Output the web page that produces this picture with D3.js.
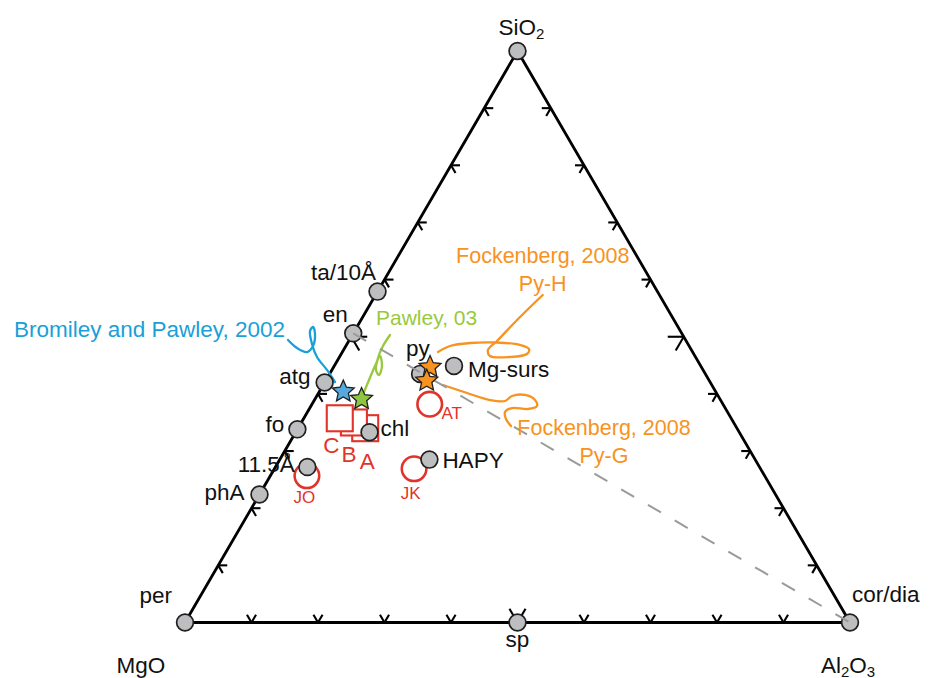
<!DOCTYPE html>
<html>
<head>
<meta charset="utf-8">
<script src="https://cdn.jsdelivr.net/npm/d3@7"></script>
<style>
  body { margin: 0; background: #fff; }
  svg { display: block; }
  text { font-family: "Liberation Sans", Arial, Helvetica, sans-serif; }
</style>
</head>
<body>
<svg id="chart" width="931" height="678"></svg>
<script>
// MgO – Al2O3 – SiO2 ternary (mole fractions: MgO, Al2O3, SiO2)

// Phase compositions
const phaseNames = ["per", "cor/dia", "SiO2", "sp", "ta/10Å", "en", "atg", "fo", "11.5Å", "phA", "chl", "py", "Mg-surs", "HAPY"];
const phaseMgO   = [1,     0,         0,      0.5,  0.421,    0.494, 0.580, 0.662, 0.680,  0.776, 0.556, 0.429, 0.371,    0.490];
const phaseAl2O3 = [0,     1,         0,      0.5,  0,        0,     0,     0,     0.048,  0,     0.111, 0.136, 0.180,    0.225];
const phaseSiO2  = [0,     0,         1,      0,    0.579,    0.506, 0.420, 0.338, 0.272,  0.224, 0.333, 0.435, 0.449,    0.285];

// Experimental run compositions (open circles)
const runCircleNames = ["JO", "JK", "AT"];
const runCircleMgO   = [0.689, 0.521, 0.441];
const runCircleAl2O3 = [0.055, 0.210, 0.177];
const runCircleSiO2  = [0.257, 0.269, 0.382];

// Experimental run compositions (open squares)
const runSquareNames = ["A", "B", "C"];
const runSquareMgO   = [0.559, 0.571, 0.588];
const runSquareAl2O3 = [0.101, 0.079, 0.054];
const runSquareSiO2  = [0.340, 0.350, 0.357];

// Literature compositions (stars)
const starSources = ["Bromiley and Pawley, 2002", "Pawley, 03", "Fockenberg, 2008 Py-H", "Fockenberg, 2008 Py-G"];
const starMgO   = [0.560, 0.539, 0.408, 0.425];
const starAl2O3 = [0.036, 0.070, 0.145, 0.152];
const starSiO2  = [0.404, 0.391, 0.447, 0.423];

// Axis ticks (fraction along each edge)
const tickValues = [0.1, 0.2, 0.3, 0.4, 0.5, 0.6, 0.7, 0.8, 0.9];

// Leader lines, in diagram units (u across, v up)
const bromileyLeader = [[0.1549,0.4943],[0.1684,0.4803],[0.1835,0.4733],[0.1925,0.4838],[0.1955,0.5048],[0.1925,0.5171],[0.1880,0.5101],[0.1910,0.4873],[0.1985,0.4646],[0.2135,0.4419],[0.2256,0.4208]];
const pawleyLeader   = [[0.3083,0.5031],[0.2977,0.4838],[0.2902,0.4628],[0.2872,0.4418],[0.2917,0.4331],[0.2962,0.4488],[0.2932,0.4663],[0.2857,0.4488],[0.2767,0.4243],[0.2692,0.4033]];
const pyHLeader      = [[0.5379,0.5731],[0.5023,0.5328],[0.4692,0.4926],[0.4556,0.4768],[0.4586,0.4663],[0.4887,0.4646],[0.5143,0.4698],[0.5173,0.4786],[0.5038,0.4856],[0.4692,0.4899],[0.4286,0.4891],[0.3985,0.4838],[0.3805,0.4733]];
const pyGLeader      = [[0.3880,0.4156],[0.4241,0.4016],[0.4586,0.3893],[0.4812,0.3876],[0.4917,0.3963],[0.5113,0.3981],[0.5263,0.3893],[0.5293,0.3788],[0.5158,0.3736],[0.4917,0.3753],[0.4812,0.3683],[0.4827,0.3561],[0.4902,0.3438]];

// ---------------------------------------------------------------------------

const svg = d3.select("#chart");
const X = d3.scaleLinear().domain([0, 1]).range([185, 850]);
const Y = d3.scaleLinear().domain([0, 1]).range([622.5, 51]);

function proj(mgo, al, si) {
  const s = mgo + al + si, b = al / s, c = si / s;
  return [X(b + c / 2), Y(c)];
}
const V = [proj(1, 0, 0), proj(0, 1, 0), proj(0, 0, 1)];

const RED = "#e2332a", BLUE = "#1a9fd8", GREEN = "#98c93c", ORANGE = "#f7931e";
const STAR_FILL = ["#55a9dd", "#8dc63f", "#f7931e", "#f7931e"];
const LEADER_COL = [BLUE, GREEN, ORANGE, ORANGE];
const FS = 22.5;

// triangle outline
svg.append("path")
  .attr("d", d3.line()([V[0], V[1], V[2]]) + "Z")
  .attr("fill", "none").attr("stroke", "#000").attr("stroke-width", 2.8)
  .attr("stroke-linejoin", "round");

// ticks: two strokes into the triangle, parallel to the other two edges
const edges = [[0, 1, 2], [0, 2, 1], [1, 2, 0]]; // [from, to, opposite vertex]
const unit = (p, q) => { const dx = q[0] - p[0], dy = q[1] - p[1], l = Math.hypot(dx, dy); return [dx / l, dy / l]; };
const tickG = svg.append("g").attr("stroke", "#000").attr("stroke-width", 2.1).attr("stroke-linecap", "butt");
edges.forEach(([i, j, k]) => {
  const d1 = unit(V[i], V[k]), d2 = unit(V[j], V[k]);
  tickValues.forEach(t => {
    const p = [V[i][0] + (V[j][0] - V[i][0]) * t, V[i][1] + (V[j][1] - V[i][1]) * t];
    const L = t === 0.5 ? 16 : 9;
    [d1, d2].forEach(d => {
      tickG.append("line")
        .attr("x1", p[0]).attr("y1", p[1])
        .attr("x2", p[0] + d[0] * L).attr("y2", p[1] + d[1] * L);
    });
  });
});

// leader lines
const leaderLine = d3.line().x(d => X(d[0])).y(d => Y(d[1])).curve(d3.curveCatmullRom.alpha(0.5));
[bromileyLeader, pawleyLeader, pyHLeader, pyGLeader].forEach((pts, i) => {
  svg.append("path").attr("d", leaderLine(pts))
    .attr("fill", "none").attr("stroke", LEADER_COL[i]).attr("stroke-width", 2.3)
    .attr("stroke-linecap", "round");
});

// open run squares
const SQ = 26;
runSquareNames.forEach((n, i) => {
  const p = proj(runSquareMgO[i], runSquareAl2O3[i], runSquareSiO2[i]);
  svg.append("rect").attr("x", p[0] - SQ / 2).attr("y", p[1] - SQ / 2)
    .attr("width", SQ).attr("height", SQ)
    .attr("fill", "#fff").attr("stroke", RED).attr("stroke-width", 2.1);
});
// open run circles
runCircleNames.forEach((n, i) => {
  const p = proj(runCircleMgO[i], runCircleAl2O3[i], runCircleSiO2[i]);
  svg.append("circle").attr("cx", p[0]).attr("cy", p[1]).attr("r", 12.3)
    .attr("fill", "none").attr("stroke", RED).attr("stroke-width", 2.6);
});

// phases
const phasePts = phaseNames.map((n, i) => proj(phaseMgO[i], phaseAl2O3[i], phaseSiO2[i]));
phasePts.forEach(p => {
  svg.append("circle").attr("cx", p[0]).attr("cy", p[1]).attr("r", 8.4)
    .attr("fill", "#bcbec0").attr("stroke", "#231f20").attr("stroke-width", 1.7);
});

// en – py – cor join
const enP = phasePts[phaseNames.indexOf("en")], corP = phasePts[phaseNames.indexOf("cor/dia")];
svg.append("line").attr("x1", enP[0]).attr("y1", enP[1]).attr("x2", corP[0]).attr("y2", corP[1])
  .attr("stroke", "#9a9a9a").attr("stroke-width", 2).attr("stroke-dasharray", "15,16");

// literature stars (five points)
function starPath(ro, ri) {
  const pts = d3.range(10).map(k => {
    const r = k % 2 ? ri : ro, a = -Math.PI / 2 + k * Math.PI / 5;
    return [r * Math.cos(a), r * Math.sin(a)];
  });
  return d3.line()(pts) + "Z";
}
starSources.forEach((s, i) => {
  const p = proj(starMgO[i], starAl2O3[i], starSiO2[i]);
  svg.append("path").attr("d", starPath(11.5, 5.4)).attr("transform", `translate(${p[0]},${p[1]})`)
    .attr("fill", STAR_FILL[i]).attr("stroke", "#231f20").attr("stroke-width", 1.3)
    .attr("stroke-linejoin", "miter");
});

// phase labels
const phaseLabelPlace = {
  "per": ["end", -13, -19.5], "cor/dia": ["start", 2, -21], "sp": ["middle", 0, 24],
  "ta/10Å": ["end", -1.5, -12], "en": ["end", -5.5, -11], "atg": ["end", -14, 1.5],
  "fo": ["end", -13, 2.5], "11.5Å": ["end", -12.5, 5], "phA": ["end", -15, 5.5],
  "chl": ["start", 11, 3.5], "py": ["start", -14, -18], "Mg-surs": ["start", 14, 11.5],
  "HAPY": ["start", 13, 8.5]
};
phaseNames.forEach((n, i) => {
  const pl = phaseLabelPlace[n];
  if (!pl) return;
  svg.append("text").attr("x", phasePts[i][0] + pl[1]).attr("y", phasePts[i][1] + pl[2])
    .attr("text-anchor", pl[0]).attr("font-size", FS).attr("fill", "#111").text(n);
});

// vertex (oxide) labels with subscripts
function oxideLabel(x, y, parts) {
  const t = svg.append("text").attr("x", x).attr("y", y).attr("text-anchor", "middle")
    .attr("font-size", FS).attr("fill", "#111");
  let down = false;
  parts.forEach(([s, sub]) => {
    const ts = t.append("tspan").text(s);
    if (sub && !down) { ts.attr("font-size", 15).attr("dy", 4); down = true; }
    else if (!sub && down) { ts.attr("dy", -4); down = false; }
    else if (sub) ts.attr("font-size", 15);
  });
}
oxideLabel(V[0][0] - 44, V[0][1] + 50, [["MgO", false]]);
oxideLabel(V[1][0] - 2, V[1][1] + 50, [["Al", false], ["2", true], ["O", false], ["3", true]]);
oxideLabel(V[2][0] + 4, V[2][1] - 16, [["SiO", false], ["2", true]]);

// run labels
const runCirclePlace = { "JO": [-2.5, 27.5], "JK": [-3.5, 30.5], "AT": [22, 14.5] };
runCircleNames.forEach((n, i) => {
  const p = proj(runCircleMgO[i], runCircleAl2O3[i], runCircleSiO2[i]);
  svg.append("text").attr("x", p[0] + runCirclePlace[n][0]).attr("y", p[1] + runCirclePlace[n][1])
    .attr("text-anchor", "middle").attr("font-size", 17).attr("fill", RED).text(n);
});
const runSquarePlace = { "A": [2, 40.5], "B": [-5, 39.5], "C": [-8.5, 34.5] };
runSquareNames.forEach((n, i) => {
  const p = proj(runSquareMgO[i], runSquareAl2O3[i], runSquareSiO2[i]);
  svg.append("text").attr("x", p[0] + runSquarePlace[n][0]).attr("y", p[1] + runSquarePlace[n][1])
    .attr("text-anchor", "middle").attr("font-size", FS).attr("fill", RED).text(n);
});

// source labels
function fockenberg(x, y, second) {
  svg.append("text").attr("x", x).attr("y", y).attr("text-anchor", "middle")
    .attr("font-size", 21.5).attr("fill", ORANGE).text("Fockenberg, 2008");
  svg.append("text").attr("x", x).attr("y", y + 28).attr("text-anchor", "middle")
    .attr("font-size", 21.5).attr("fill", ORANGE).text(second);
}
svg.append("text").attr("x", X(bromileyLeader[0][0]) - 274).attr("y", Y(bromileyLeader[0][1]) - 3)
  .attr("font-size", FS).attr("fill", BLUE).text(starSources[0]);
svg.append("text").attr("x", X(pawleyLeader[0][0]) - 14).attr("y", Y(pawleyLeader[0][1]) - 10)
  .attr("font-size", 21).attr("fill", GREEN).text(starSources[1]);
fockenberg(X(pyHLeader[0][0]), Y(pyHLeader[0][1]) - 32, "Py-H");
fockenberg(X(pyGLeader[pyGLeader.length - 1][0]) + 93, Y(pyGLeader[pyGLeader.length - 1][1]) + 9, "Py-G");
</script>
</body>
</html>
